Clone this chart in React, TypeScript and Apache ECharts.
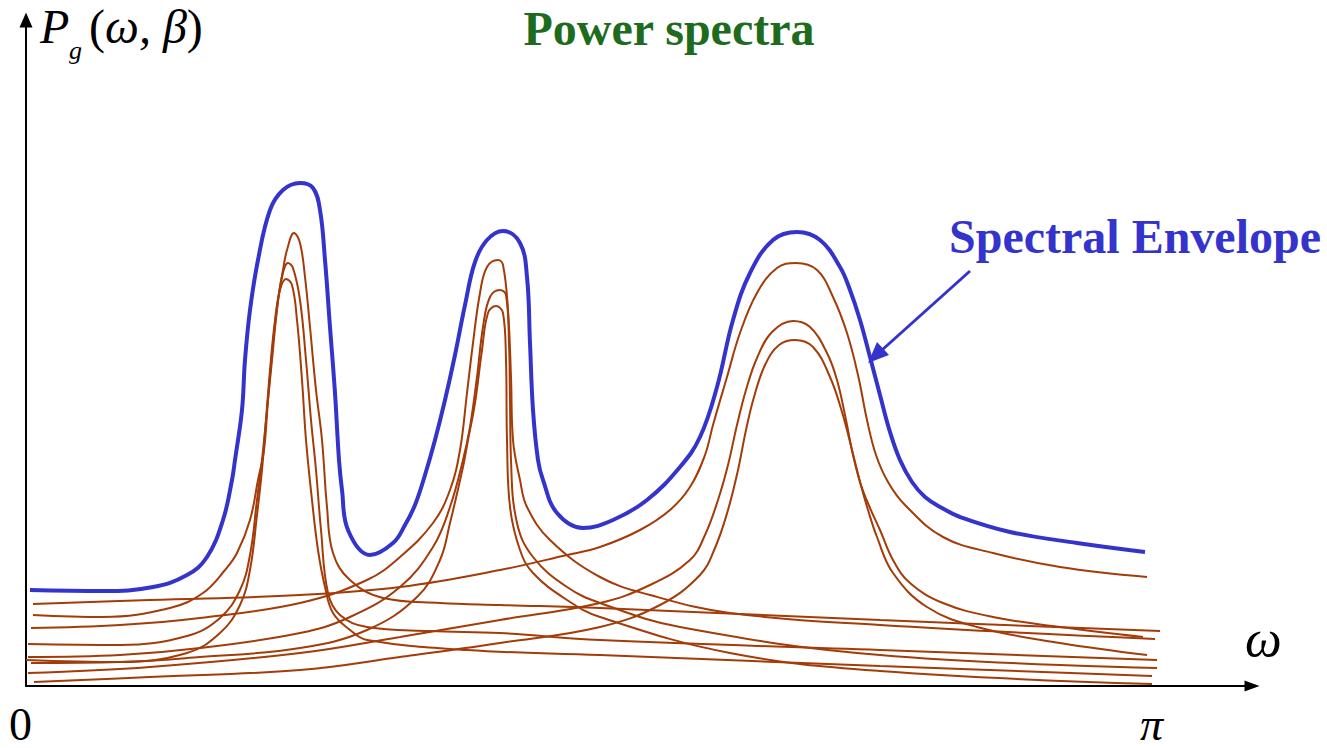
import { useEffect, useRef } from "react";
import * as echarts from "echarts";

// x: frequency (pi at 1138 units), y: spectral power (arbitrary units)
const envelope = [[8,95],[81,94],[131,98],[165,110],[185,128],[201,165],[210,205],[213,225],[220,275],[223,325],[228,375],[236,425],[248,475],[261,495],[278,502],[291,497],[298,475],[303,425],[308,358],[313,292],[317,225],[320,195],[326,155],[348,130],[371,142],[383,160],[393,180],[403,210],[413,245],[423,285],[433,330],[443,380],[453,423],[465,445],[481,454],[498,442],[505,408],[508,342],[511,275],[516,225],[521,205],[535,172],[561,157],[591,165],[625,185],[658,218],[678,248],[695,298],[711,365],[728,412],[751,445],[775,453],[798,445],[818,418],[828,395],[838,365],[848,328],[858,290],[868,253],[878,225],[890,203],[903,188],[920,177],[938,168],[988,153],[1055,142],[1123,133]];

const spec1a = [[11,70],[81,68],[148,77],[181,92],[203,115],[215,132],[228,165],[236,205],[242,235],[246,285],[251,342],[256,385],[261,415],[265,435],[272,452],[278,442],[283,408],[288,358],[294,295],[300,245],[305,178],[311,132],[328,105],[361,87],[418,82],[478,80],[578,77],[858,65],[1138,54]];
const spec1b = [[6,41],[98,40],[165,49],[198,67],[218,95],[228,130],[235,185],[240,225],[245,275],[250,325],[255,375],[260,408],[266,422],[271,417],[278,385],[284,325],[289,265],[294,215],[299,155],[306,92],[318,70],[345,58],[408,54],[478,52],[578,45],[858,35],[1135,25]];
const spec1c = [[4,25],[98,23],[165,32],[198,52],[218,80],[228,115],[235,170],[240,215],[244,265],[248,315],[253,365],[258,395],[264,406],[270,400],[275,365],[280,305],[284,245],[290,185],[296,135],[303,98],[311,72],[328,55],[345,45],[445,35],[578,30],[858,19],[1130,9]];
const spec2a = [[9,57],[98,60],[178,67],[278,82],[345,105],[378,128],[411,162],[428,195],[438,235],[445,292],[451,342],[458,392],[465,418],[476,425],[481,420],[486,375],[489,308],[491,245],[498,205],[505,178],[528,145],[578,108],[628,90],[708,72],[858,60],[1133,46]];
const spec2b = [[6,28],[98,30],[178,37],[278,52],[328,68],[378,98],[411,138],[428,178],[441,225],[448,258],[455,308],[461,358],[468,388],[478,395],[484,390],[487,342],[488,285],[489,225],[495,162],[511,128],[545,98],[578,82],[658,58],[858,30],[1135,17]];
const spec2c = [[9,22],[98,23],[178,28],[278,37],[345,55],[395,88],[418,125],[428,162],[441,218],[446,245],[453,282],[460,335],[466,372],[474,379],[481,372],[484,325],[485,245],[488,178],[498,135],[511,112],[545,85],[578,68],[708,32],[858,14],[1130,1]];
const spec3a = [[11,81],[128,85],[278,90],[378,98],[478,115],[545,130],[578,138],[618,155],[648,175],[668,198],[683,230],[691,260],[705,308],[718,352],[735,392],[755,417],[774,422],[795,415],[811,388],[825,352],[836,310],[845,265],[854,230],[866,203],[883,180],[921,148],[971,132],[1038,118],[1125,108]];
const spec3b = [[6,12],[128,18],[278,32],[378,48],[478,65],[578,82],[628,100],[668,125],[683,150],[696,185],[706,220],[715,260],[724,295],[735,327],[750,353],[771,364],[788,358],[805,332],[815,305],[824,265],[831,230],[839,200],[848,177],[858,155],[871,125],[888,102],[921,82],[971,68],[1038,58],[1121,48]];
const spec3c = [[12,3],[128,8],[278,15],[378,28],[478,42],[578,58],[638,80],[678,110],[693,137],[706,175],[716,215],[724,255],[732,288],[743,320],[757,340],[773,345],[791,338],[808,308],[820,273],[830,235],[838,203],[846,175],[855,148],[871,112],[905,78],[955,58],[1038,42],[1125,30]];

const componentSpectra = [spec1a, spec1b, spec1c, spec2a, spec2b, spec2c, spec3a, spec3b, spec3c];

const BROWN = "#A33C08";
const BLUE = "#3434CC";
const GREEN = "#1E6B1E";
const SERIF = '"Liberation Serif", "Times New Roman", serif';

export default function App() {
  const ref = useRef<HTMLDivElement>(null);
  useEffect(() => {
    document.body.style.margin = "0";
    const chart = echarts.init(ref.current!, null, { renderer: "svg" });
    const axisCommon = {
      type: "value",
      axisTick: { show: false },
      axisLabel: { show: false },
      splitLine: { show: false },
    };
    chart.setOption({
      animation: false,
      grid: { left: 26, right: 75, top: 20, bottom: 62 },
      xAxis: {
        ...axisCommon,
        min: 4,
        max: 1230,
        axisLine: {
          show: true,
          onZero: false,
          symbol: ["none", "triangle"],
          symbolSize: [11, 15],
          lineStyle: { color: "#000", width: 2 },
        },
      },
      yAxis: {
        ...axisCommon,
        min: -1,
        max: 665,
        axisLine: {
          show: true,
          onZero: false,
          symbol: ["none", "triangle"],
          symbolSize: [13, 15],
          lineStyle: { color: "#000", width: 2 },
        },
      },
      series: [
        ...componentSpectra.map((d) => ({
          type: "line",
          data: d,
          symbol: "none",
          smooth: 0.4,
          silent: true,
          lineStyle: { color: BROWN, width: 2 },
        })),
        {
          type: "line",
          data: envelope,
          symbol: "none",
          smooth: 0.4,
          silent: true,
          lineStyle: { color: BLUE, width: 4 },
        },
      ],
      graphic: [
        { type: "text", x: 669, y: 28, style: { text: "Power spectra", font: `bold 48px ${SERIF}`, fill: GREEN, align: "center", verticalAlign: "middle" } },
        { type: "text", x: 949, y: 236, style: { text: "Spectral Envelope", font: `bold 48px ${SERIF}`, fill: BLUE, align: "left", verticalAlign: "middle" } },
        { type: "text", x: 40, y: 26, style: { text: "P", font: `italic 48px ${SERIF}`, fill: "#000", align: "left", verticalAlign: "middle" } },
        { type: "text", x: 69, y: 50, style: { text: "g", font: `italic 26px ${SERIF}`, fill: "#000", align: "left", verticalAlign: "middle" } },
        {
          type: "text", x: 89, y: 26,
          style: {
            text: "{a|(}{b|ω, β}{a|)}",
            align: "left", verticalAlign: "middle",
            rich: {
              a: { font: `48px ${SERIF}`, fill: "#000" },
              b: { font: `italic 48px ${SERIF}`, fill: "#000" },
            },
          },
        },
        { type: "text", x: 1245, y: 638, style: { text: "ω", font: `italic 52px ${SERIF}`, fill: "#000", align: "left", verticalAlign: "middle" } },
        { type: "text", x: 1140, y: 724, style: { text: "π", font: `italic 46px ${SERIF}`, fill: "#000", align: "left", verticalAlign: "middle" } },
        { type: "text", x: 9, y: 724, style: { text: "0", font: `46px ${SERIF}`, fill: "#000", align: "left", verticalAlign: "middle" } },
        { type: "line", shape: { x1: 970, y1: 271, x2: 882, y2: 350 }, style: { stroke: BLUE, lineWidth: 3 } },
        { type: "polygon", shape: { points: [[868, 363], [889, 355], [877, 342]] }, style: { fill: BLUE } },
      ],
    });
    return () => chart.dispose();
  }, []);
  return <div ref={ref} style={{ width: 1327, height: 748 }} />;
}
